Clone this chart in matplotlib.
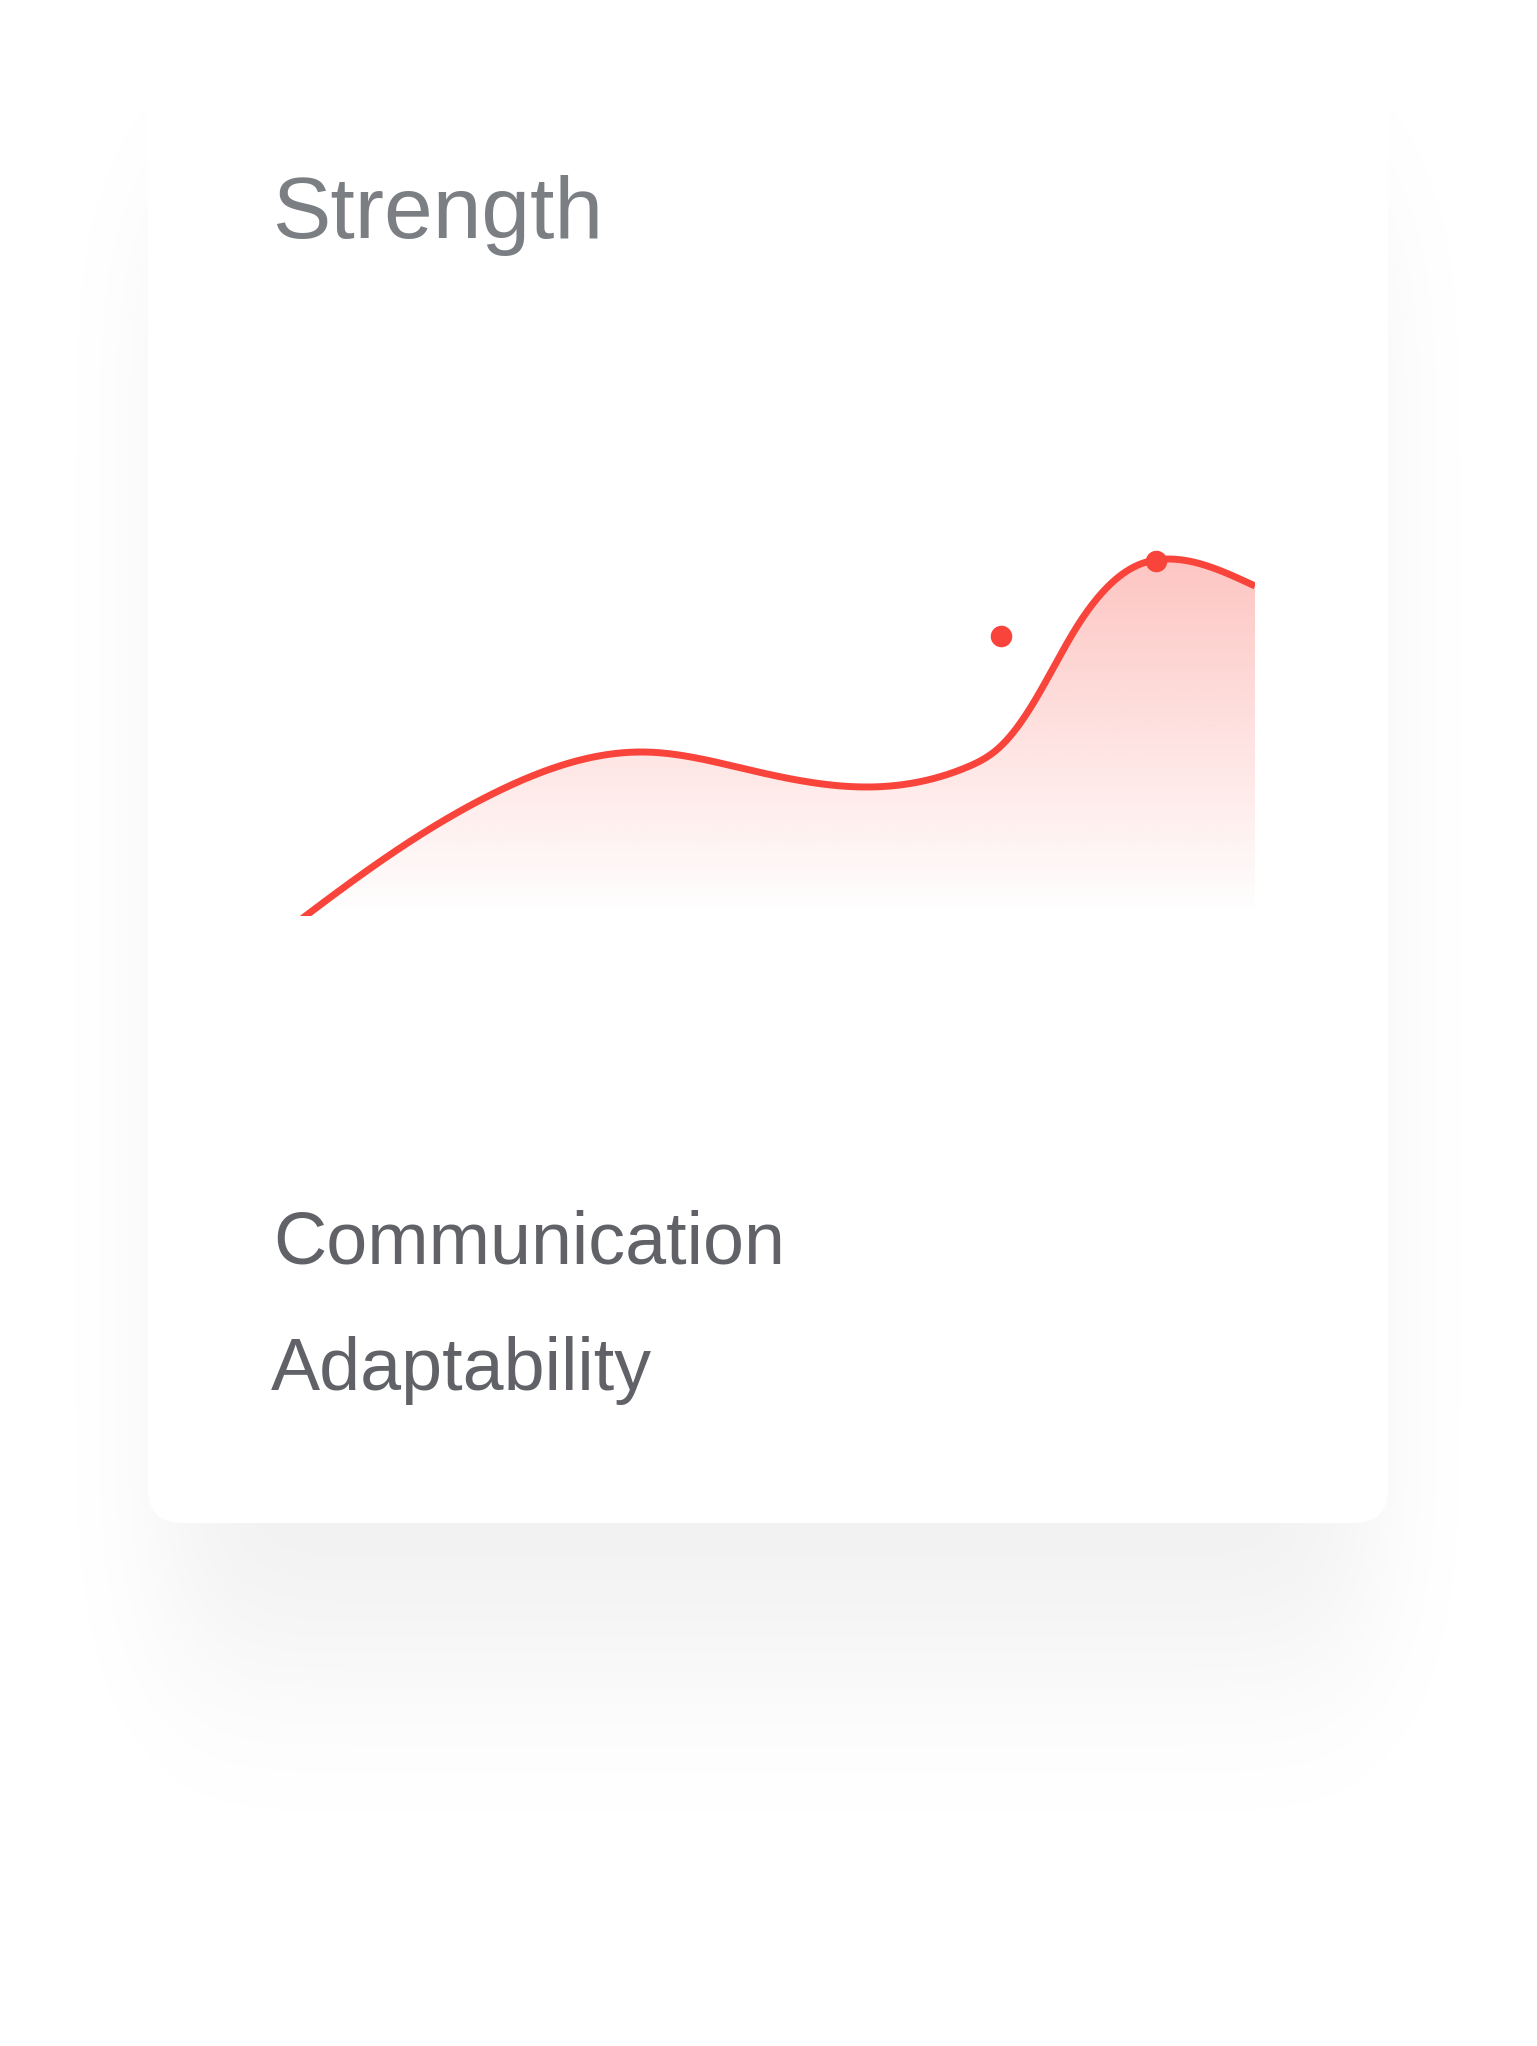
import math
import numpy as np
import matplotlib
matplotlib.use('Agg')
import matplotlib.pyplot as plt
from matplotlib.patches import FancyBboxPatch, Polygon

# chart data (x in week %, y in score)
week = [0, 13.2, 23.4, 37.9, 48.7, 60.6, 70.8, 74.1, 77.5, 81.9, 87.7, 91.1, 100]
strength = [-5.4, 13.6, 25.2, 32.8, 29.2, 25.8, 29.8, 33.8, 42.6, 57.8, 69.8, 71.4, 66.0]
marker_x = [74.2, 89.9]
marker_y = [56.0, 71.0]
title = 'Strength'
labels = ['Communication', 'Adaptability']

RED = '#f9443b'
W, H = 1537, 2046


def natural_spline(x, y, n=800):
    # plain natural cubic spline, just for a smooth line like the original
    x = np.asarray(x, float)
    y = np.asarray(y, float)
    k = len(x)
    h = np.diff(x)
    A = np.zeros((k, k))
    b = np.zeros(k)
    A[0, 0] = A[-1, -1] = 1
    for i in range(1, k - 1):
        A[i, i - 1] = h[i - 1]
        A[i, i] = 2 * (h[i - 1] + h[i])
        A[i, i + 1] = h[i]
        b[i] = 3 * ((y[i + 1] - y[i]) / h[i] - (y[i] - y[i - 1]) / h[i - 1])
    c = np.linalg.solve(A, b)
    xs = np.linspace(x[0], x[-1], n)
    idx = np.clip(np.searchsorted(x, xs) - 1, 0, k - 2)
    dx = xs - x[idx]
    bb = (y[idx + 1] - y[idx]) / h[idx] - h[idx] * (2 * c[idx] + c[idx + 1]) / 3
    dd = (c[idx + 1] - c[idx]) / (3 * h[idx])
    ys = y[idx] + bb * dx + c[idx] * dx ** 2 + dd * dx ** 3
    return xs, ys


fig = plt.figure(figsize=(W / 100, H / 100), dpi=100)
fig.patch.set_facecolor('white')

bg = fig.add_axes([0, 0, 1, 1])
bg.set_xlim(0, W)
bg.set_ylim(H, 0)
bg.axis('off')

# soft drop shadow under the card
erf = np.vectorize(math.erf)
px = np.arange(W) + 0.5
py = np.arange(H) + 0.5
sx = 60 * math.sqrt(2)
sy = 100 * math.sqrt(2)
fx = 0.5 * (erf((px - 166) / sx) - erf((px - 1370) / sx))
fy = 0.5 * (erf((py - 200) / sy) - erf((py - 1660) / sy))
shade = np.zeros((H, W, 4))
shade[..., 3] = 0.06 * np.outer(fy, fx)
bg.imshow(shade, extent=[0, W, H, 0], zorder=0, interpolation='bilinear')

card = FancyBboxPatch((148, 32), 1240, 1491, boxstyle='round,pad=0,rounding_size=34',
                      facecolor='white', edgecolor='none', zorder=1)
bg.add_patch(card)

bg.text(272, 238, title, fontsize=63, color='#7b7e83', family='Liberation Sans',
        va='baseline', ha='left', zorder=2)
bg.text(273, 1263, labels[0], fontsize=53, color='#606267', family='Liberation Sans',
        va='baseline', ha='left', zorder=2)
bg.text(271, 1390, labels[1], fontsize=53, color='#606267', family='Liberation Sans',
        va='baseline', ha='left', zorder=2)

# chart area
ax = fig.add_axes([270 / W, (H - 916) / H, 985 / W, 500 / H])
ax.set_xlim(0, 100)
ax.set_ylim(0, 100)
ax.axis('off')
ax.patch.set_alpha(0)

xs, ys = natural_spline(week, strength)
ytop = max(strength)
grad = np.zeros((256, 1, 4))
grad[..., 0:3] = matplotlib.colors.to_rgb(RED)
grad[:, 0, 3] = np.linspace(0.31, 0.0, 256)
im = ax.imshow(grad, extent=[0, 100, 0, ytop], aspect='auto', origin='upper', zorder=2)
poly = Polygon(np.column_stack([np.r_[xs, xs[-1], xs[0]], np.r_[ys, 0, 0]]),
               closed=True, facecolor='none', edgecolor='none', transform=ax.transData)
ax.add_patch(poly)
im.set_clip_path(poly)

ax.plot(xs, ys, color=RED, lw=5, solid_capstyle='butt', zorder=3)
ax.scatter(marker_x, marker_y, s=240, color=RED, zorder=4, clip_on=False, linewidths=0)

fig.savefig('out.png', dpi=100, facecolor='white')
